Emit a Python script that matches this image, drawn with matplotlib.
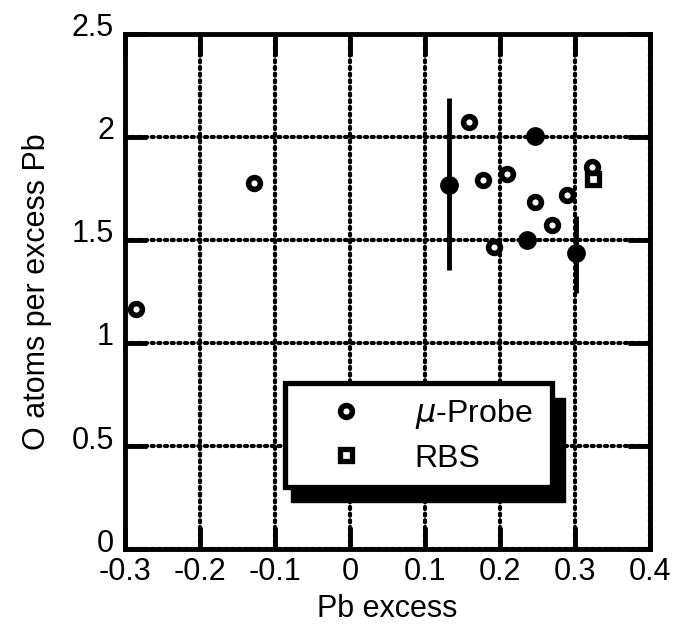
import numpy as np
import matplotlib.pyplot as plt
from matplotlib.patches import Rectangle
from matplotlib.lines import Line2D
from matplotlib.transforms import ScaledTranslation

plt.rcParams['font.family'] = ['Liberation Sans', 'DejaVu Sans']

# mu-probe, open circles
probe_x = [-0.285, -0.128, 0.159, 0.177, 0.209, 0.246, 0.289, 0.269, 0.192, 0.322]
probe_y = [1.165, 1.777, 2.07, 1.79, 1.82, 1.685, 1.72, 1.57, 1.466, 1.855]

# mu-probe, filled circles
full_x = [0.246, 0.236]
full_y = [2.005, 1.50]

# points with error bars
err_x = [0.132, 0.301]
err_y = [1.767, 1.437]
err_lo = [0.413, 0.194]
err_hi = [0.423, 0.180]

# RBS
rbs_x = [0.324]
rbs_y = [1.796]

xticks = [-0.3, -0.2, -0.1, 0, 0.1, 0.2, 0.3, 0.4]
xlabels = ['-0.3', '-0.2', '-0.1', '0', '0.1', '0.2', '0.3', '0.4']
yticks = [0, 0.5, 1, 1.5, 2, 2.5]
ylabels = ['0', '0.5', '1', '1.5', '2', '2.5']

fig = plt.figure(figsize=(6.73, 6.24), dpi=100)
ax = fig.add_axes([0.186, 0.12, 0.78, 0.826])

ax.set_xlim(-0.3, 0.4)
ax.set_ylim(0, 2.5)
ax.set_xticks(xticks)
ax.set_xticklabels(xlabels)
ax.set_yticks(yticks)
ax.set_yticklabels(ylabels)

ax.grid(True, color='black', linestyle=(0, (0.5, 1.1)), linewidth=3.0,
        dash_capstyle='round')
ax.tick_params(direction='in', length=16, width=3.5, top=True, right=True,
               labelsize=22)
ax.tick_params(axis='x', pad=6)
ax.tick_params(axis='y', pad=8)
for s in ax.spines.values():
    s.set_linewidth(3.5)

# y tick labels sit a little above their ticks
for lab in ax.get_yticklabels():
    lab.set_transform(lab.get_transform() + ScaledTranslation(0, 9 / 100, fig.dpi_scale_trans))

ax.errorbar(err_x, err_y, yerr=[err_lo, err_hi], fmt='o', color='black',
            ms=12.5, elinewidth=3.5, capsize=0, zorder=4)
ax.plot(full_x, full_y, 'o', color='black', ms=12.5, zorder=4)
ax.plot(rbs_x, rbs_y, 's', mfc='white', mec='black', ms=8, mew=3.8, zorder=4)
ax.plot(probe_x, probe_y, 'o', mfc='white', mec='black', ms=8.5, mew=4.0, zorder=5)

ax.set_xlabel('Pb excess', fontsize=22, labelpad=5)
ax.set_ylabel('O atoms per excess Pb', fontsize=22, labelpad=14)

# legend box with a heavy drop shadow
ax.add_patch(Rectangle((0.315, 0.091), 0.523, 0.202, transform=ax.transAxes,
                       facecolor='black', edgecolor='black', zorder=6))
ax.add_patch(Rectangle((0.305, 0.12), 0.508, 0.202, transform=ax.transAxes,
                       facecolor='white', edgecolor='black', linewidth=3.8, zorder=7))

handles = [Line2D([], [], marker='o', ls='', mfc='white', mec='black', ms=8.5, mew=4.0),
           Line2D([], [], marker='s', ls='', mfc='white', mec='black', ms=8, mew=3.8)]
leg = ax.legend(handles, [r'$\mu$-Probe', 'RBS'], loc='center',
                bbox_to_anchor=(0.575, 0.221), frameon=False, fontsize=23,
                handletextpad=1.4, labelspacing=0.4, handlelength=1.5)
leg.set_zorder(8)

fig.savefig('out.png', dpi=100)
